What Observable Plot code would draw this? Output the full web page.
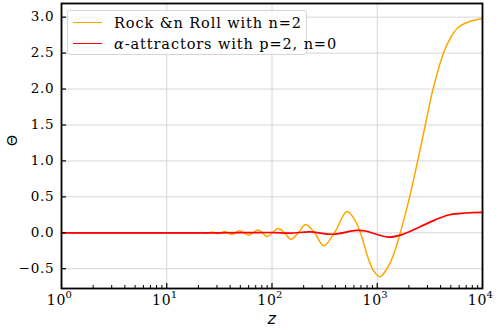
<!DOCTYPE html>
<html>
<head>
<meta charset="utf-8">
<script src="https://cdn.jsdelivr.net/npm/d3@7"></script>
<script src="https://cdn.jsdelivr.net/npm/@observablehq/plot@0.6"></script>
<style>
  body { margin: 0; background: #fff; }
  #wrap { position: relative; width: 498px; height: 330px; }
  #legend {
    position: absolute; left: 67px; top: 10px; width: 240px; height: 45px;
    border: 1px solid #d6d6d6; border-radius: 3px; background: rgba(255,255,255,0.85);
    font-family: "DejaVu Serif", "Liberation Serif", serif; font-size: 14.5px; letter-spacing: 0.9px;
    color: #000; box-sizing: border-box;
  }
  .row { position: absolute; left: 5px; height: 21px; display: flex; align-items: center; white-space: nowrap; }
  .sw { width: 29px; height: 0; border-top: 1.5px solid; margin-right: 12px; }
</style>
</head>
<body>
<div id="wrap"><div id="chart"></div><div id="legend"></div></div>
<script>
// ---- data ----
const seriesNames = ["Rock &n Roll with n=2", "α-attractors with p=2, n=0"];
const seriesColors = ["orange", "red"];

const rockZ = [1, 10, 13.5, 16.4, 17.4, 18.5, 19.7, 20.9, 22.3, 23.7, 25.3, 27.0, 28.8, 30.8, 33.0, 35.3, 38.4,
  41.8, 45.3, 49.0, 54.3, 60.1, 66.3, 73.1, 81.0, 89.7, 101, 114, 131.5, 151, 178, 209, 254, 310, 392, 516,
  619, 692, 828, 925, 1059, 1282, 1486, 1656, 1849, 2032, 2421, 2864, 3388, 4276, 5023, 5929, 7379, 10000];
const rockTheta = [0, 0, 0, 0.002, 0, -0.003, 0, 0.005, 0, -0.007, 0, 0.010, 0, -0.015, 0, 0.018, 0,
  -0.024, 0, 0.028, 0, -0.033, 0, 0.038, 0, -0.052, 0, 0.060, 0, -0.090, 0, 0.116, 0, -0.181, 0, 0.296,
  0.167, 0, -0.37, -0.53, -0.61, -0.46, -0.23, 0, 0.26, 0.5, 1.0, 1.5, 2.0, 2.506, 2.724, 2.863, 2.933, 2.98];

const alphaZ = [1, 30, 60, 100, 150, 230, 380, 630, 771, 1030, 1282, 1721, 2473, 3565, 4764, 6871, 10000];
const alphaTheta = [0, 0, 0.002, 0.004, -0.004, 0.012, -0.02, 0.033, 0.025, -0.03, -0.06, -0.025, 0.075, 0.18, 0.247, 0.275, 0.283];

const xTicks = [1, 10, 100, 1000, 10000];
const xTickBase = "10";
const xTickExponents = ["0", "1", "2", "3", "4"];
const xMinorTicks = [2,3,4,5,6,7,8,9,20,30,40,50,60,70,80,90,200,300,400,500,600,700,800,900,2000,3000,4000,5000,6000,7000,8000,9000];
const yTicks = [-0.5, 0, 0.5, 1.0, 1.5, 2.0, 2.5, 3.0];
const xLabel = "z";
const yLabel = "Θ";

// ---- build tables ----
const rock = rockZ.map((z, i) => ({z, theta: rockTheta[i]}));
const alpha = alphaZ.map((z, i) => ({z, theta: alphaTheta[i]}));

const W = 498, H = 330, mL = 61, mR = 16, mT = 3, mB = 42;
const plotW = W - mL - mR, plotH = H - mT - mB;
const fmtY = d3.format(".1f");
const serif = "DejaVu Serif, Liberation Serif, serif";

const chart = Plot.plot({
  width: W, height: H,
  marginLeft: mL, marginRight: mR, marginTop: mT, marginBottom: mB,
  style: { fontFamily: serif, fontSize: "13px", background: "white", color: "black", letterSpacing: "0.8px" },
  x: { type: "log", domain: [1, 10000], axis: null },
  y: { domain: [-0.775, 3.19], axis: null },
  marks: [
    Plot.gridX(xTicks, { stroke: "#d6d6d6", strokeOpacity: 1, strokeWidth: 1 }),
    Plot.gridY(yTicks, { stroke: "#d6d6d6", strokeOpacity: 1, strokeWidth: 1 }),
    Plot.line(rock, { x: "z", y: "theta", stroke: seriesColors[0], strokeWidth: 1.5, curve: "catmull-rom" }),
    Plot.line(alpha, { x: "z", y: "theta", stroke: seriesColors[1], strokeWidth: 1.7, curve: "catmull-rom" }),
    // inward ticks
    Plot.tickX(xTicks, { x: d => d, insetTop: plotH - 5, stroke: "black", strokeWidth: 1.2 }),
    Plot.tickX(xMinorTicks, { x: d => d, insetTop: plotH - 3, stroke: "black", strokeWidth: 1 }),
    Plot.tickY(yTicks, { y: d => d, insetRight: plotW - 5, stroke: "black", strokeWidth: 1.2 }),
    // x tick labels: base + superscript exponent
    Plot.text(xTicks, { x: d => d, frameAnchor: "bottom", dy: 12, dx: -5, text: () => xTickBase, fontFamily: serif, fontSize: 14, lineAnchor: "middle" }),
    Plot.text(xTicks, { x: d => d, frameAnchor: "bottom", dy: 6, dx: 7.5, text: (d, i) => xTickExponents[i], fontFamily: serif, fontSize: 10, lineAnchor: "middle" }),
    Plot.text(yTicks, { y: d => d, frameAnchor: "left", dx: -7, textAnchor: "end", text: d => fmtY(d), fontFamily: serif, fontSize: 13.5, lineAnchor: "middle" }),
    Plot.text([xLabel], { frameAnchor: "bottom", dy: 30, lineAnchor: "middle", fontStyle: "italic", fontFamily: "DejaVu Sans", fontSize: 16 }),
    Plot.text([yLabel], { frameAnchor: "left", dx: -49, rotate: -90, fontFamily: "DejaVu Sans", fontSize: 14 }),
    Plot.frame({ stroke: "black", strokeWidth: 1.8 })
  ]
});
document.getElementById("chart").appendChild(chart);

// legend
const leg = document.getElementById("legend");
seriesNames.forEach((name, i) => {
  const row = document.createElement("div");
  row.className = "row";
  row.style.top = (i === 0 ? 1 : 22) + "px";
  const sw = document.createElement("span");
  sw.className = "sw";
  sw.style.borderColor = seriesColors[i];
  row.appendChild(sw);
  const t = document.createElement("span");
  if (name.startsWith("α")) {
    const a = document.createElement("i");
    a.textContent = "α";
    t.appendChild(a);
    t.appendChild(document.createTextNode(name.slice(1)));
  } else {
    t.textContent = name;
  }
  row.appendChild(t);
  leg.appendChild(row);
});
</script>
</body>
</html>
